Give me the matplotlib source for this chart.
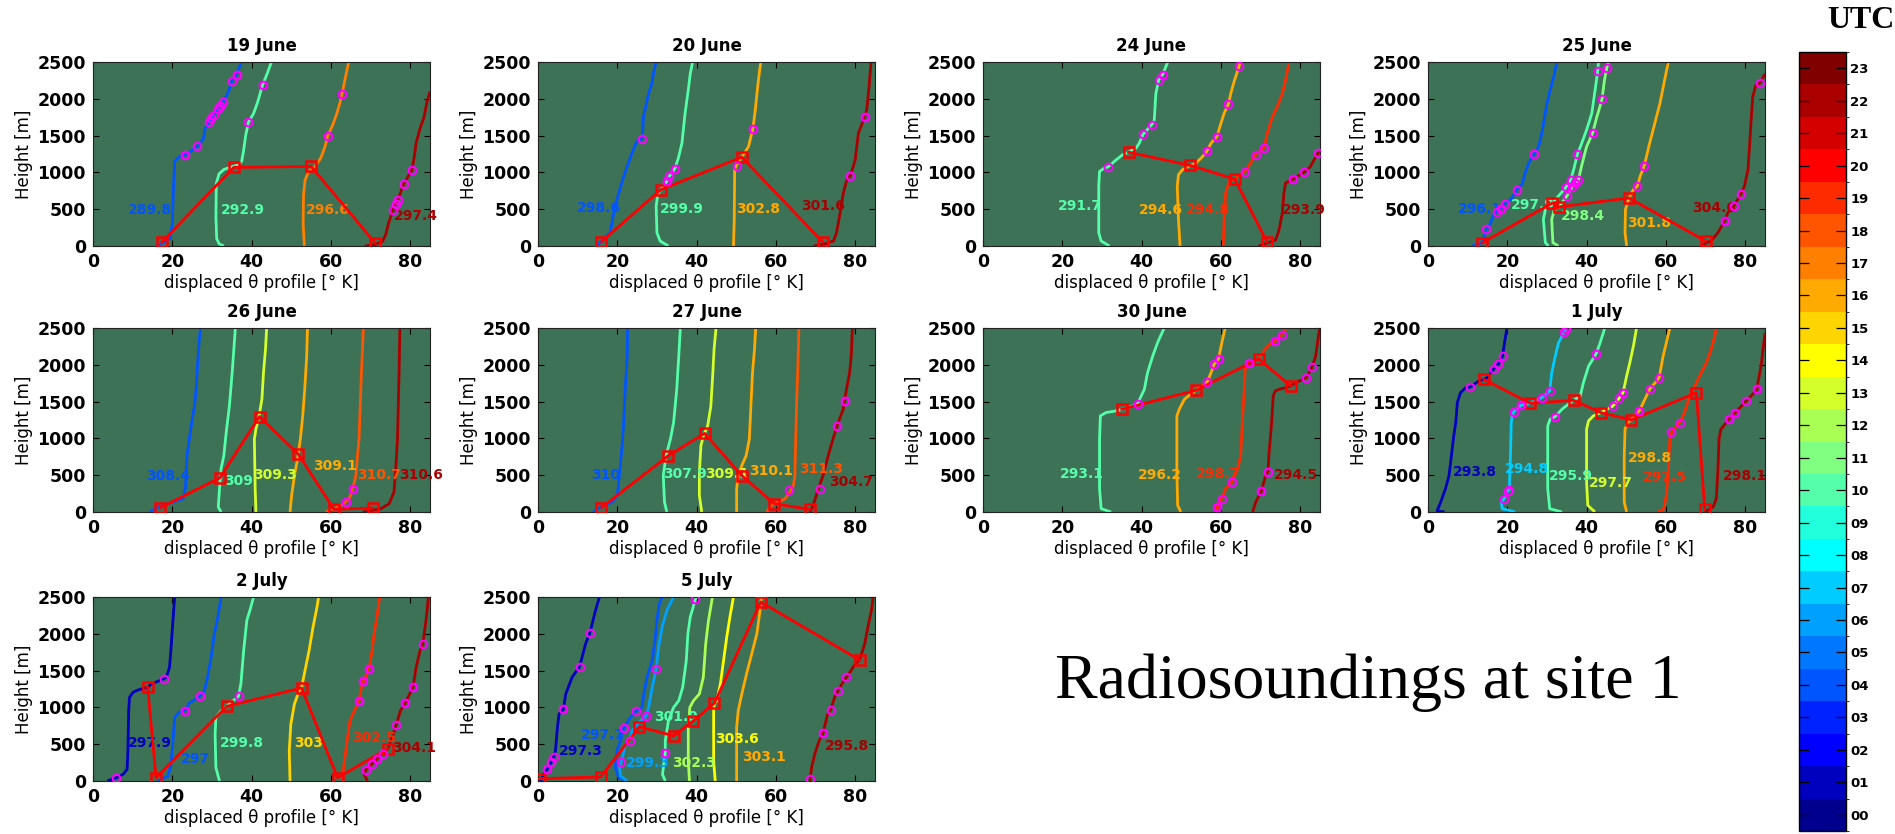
import numpy as np
import matplotlib
matplotlib.use('Agg')
import matplotlib.pyplot as plt
from matplotlib.colors import ListedColormap, BoundaryNorm
from matplotlib.cm import ScalarMappable

# ---------------- data ----------------
utc_hours = list(range(24))
utc_labels = ['%02d' % h for h in utc_hours]

panel_titles = ['19 June', '20 June', '24 June', '25 June', '26 June',
                '27 June', '30 June', '1 July', '2 July', '5 July']

# 19 June
jun19_hours = [4, 10, 17, 22]
jun19_labels = ['289.8', '292.9', '296.6', '297.4']
jun19_label_xz = [(8.8, 495), (32.3, 495), (53.7, 495), (75.9, 405)]
jun19_profiles = [
    [(15.9, 0), (17.5, 40), (19.5, 100), (20, 300), (20.3, 800), (20.6, 1150), (22, 1220), (23.2, 1239),
     (25.5, 1320), (26.5, 1365), (27.8, 1450), (28.3, 1600), (29.2, 1689), (30.6, 1779), (31.5, 1856),
     (32.8, 1955), (34.2, 2100), (35.0, 2239), (36.2, 2329), (36.8, 2420), (37.5, 2500)],
    [(33, 0), (31.8, 30), (31.2, 100), (31, 400), (31.1, 850), (31.8, 980), (33, 1040), (35, 1075),
     (36.5, 1100), (37.5, 1150), (38, 1300), (38.5, 1500), (39.2, 1680), (40.5, 1800), (41.5, 1950),
     (42.8, 2194), (44, 2350), (45, 2500)],
    [(53.3, 0), (53, 300), (53.1, 700), (53.5, 900), (54.5, 1020), (56, 1080), (57.5, 1200), (58.5, 1350),
     (59.2, 1495), (60.5, 1650), (61.5, 1800), (62.3, 1950), (62.8, 2063), (63.7, 2300), (64.5, 2500)],
    [(68.5, 0), (71, 20), (73, 60), (73.8, 150), (74.5, 300), (75.7, 495), (76.5, 577), (76.9, 631),
     (78.4, 847), (80.4, 1027), (81, 1200), (81.5, 1400), (82.5, 1600), (83.5, 1750), (84.2, 1950),
     (85, 2100)],
]
jun19_marks = [(23.2, 1239), (26.3, 1360), (29.2, 1689), (29.8, 1734), (30.6, 1779), (31.5, 1856),
               (32.1, 1901), (32.8, 1955), (35.0, 2239), (36.2, 2329), (39.2, 1680), (42.8, 2194),
               (59.2, 1495), (62.8, 2063), (75.7, 495), (76.5, 577), (76.9, 631), (78.4, 847), (80.4, 1027)]
jun19_bl = [(17.4, 54), (35.5, 1068), (55, 1081), (71.1, 45)]

# 20 June
jun20_hours = [4, 10, 16, 22]
jun20_labels = ['298.6', '299.9', '302.8', '301.6']
jun20_label_xz = [(9.8, 518), (30.8, 505), (50, 505), (66.4, 540)]
jun20_profiles = [
    [(14.7, 0), (16.1, 68), (18.2, 180), (19.1, 450), (19.9, 630), (21.6, 945), (23.7, 1261), (24.9, 1419),
     (26.3, 1459), (26.6, 1757), (27.9, 2072), (28.7, 2207), (29.1, 2342), (29.8, 2500)],
    [(32.9, 0), (30.8, 68), (30, 180), (29.8, 540), (30.2, 700), (31, 766), (32.5, 878), (33.1, 946),
     (34.5, 1050), (35.4, 1194), (36.3, 1396), (37.1, 1802), (38, 2162), (38.4, 2342), (39, 2500)],
    [(49.3, 0), (49.5, 360), (49.6, 1036), (50.1, 1100), (51.4, 1207), (53.1, 1351), (54.2, 1595),
     (54.8, 1847), (55.4, 2162), (55.9, 2387), (56.2, 2500)],
    [(69.5, 0), (72.5, 30), (74.5, 68), (75.3, 180), (76.2, 450), (77, 720), (77.9, 900), (78.8, 955),
     (80, 1171), (80.8, 1532), (82.3, 1740), (82.9, 1847), (83.5, 2162), (84, 2500)],
]
jun20_marks = [(26.3, 1459), (32.5, 878), (33.1, 946), (34.5, 1050), (50.1, 1081), (54.2, 1595),
               (78.8, 955), (82.5, 1757)]
jun20_bl = [(16, 59), (31, 766), (51.4, 1207), (71.8, 54)]

# 24 June
jun24_hours = [10, 16, 19, 22]
jun24_labels = ['291.7', '294.6', '294.8', '293.9']
jun24_label_xz = [(18.9, 540), (39.4, 495), (51.2, 490), (75.5, 495)]
jun24_profiles = [
    [(31.9, 0), (29.8, 68), (29.2, 180), (29.2, 811), (29.4, 1014), (30.6, 1059), (31.5, 1072),
     (33.6, 1171), (35.2, 1239), (36.7, 1275), (38.6, 1329), (39.4, 1396), (40.4, 1518), (42.5, 1644),
     (43.2, 1712), (43.6, 2072), (44.3, 2252), (45.3, 2329), (46.6, 2500)],
    [(49.7, 0), (49.3, 360), (49, 811), (49.3, 968), (50.3, 1036), (52.3, 1095), (53.7, 1126),
     (55.4, 1216), (56.4, 1284), (57.5, 1396), (59, 1486), (60, 1667), (60.8, 1802), (61.9, 1928),
     (62.5, 2072), (63.3, 2230), (64.6, 2441), (64.8, 2500)],
    [(60.6, 0), (60.8, 360), (61.2, 720), (62.1, 880), (63.5, 909), (64.6, 968), (66, 1000), (68, 1171),
     (68.8, 1239), (70.9, 1338), (71.7, 1532), (73, 1757), (74.2, 1892), (75.5, 2072), (76.3, 2252),
     (77.2, 2500)],
    [(69.5, 0), (71.6, 40), (73.8, 80), (74.7, 225), (75.5, 450), (75.9, 720), (76.3, 856), (78.2, 909),
     (79.3, 946), (81, 1000), (82.6, 1081), (83.5, 1171), (84.5, 1261), (85, 1306)],
]
jun24_marks = [(31.5, 1072), (40.4, 1518), (42.5, 1644), (44.3, 2252), (45.3, 2329), (56.4, 1284),
               (59, 1486), (61.9, 1928), (64.6, 2441), (66, 1000), (68.8, 1239), (70.9, 1338),
               (78.2, 909), (81, 1000), (84.5, 1261)]
jun24_bl = [(36.7, 1275), (52.3, 1095), (63.5, 909), (71.6, 59)]

# 25 June
jun25_hours = [4, 10, 11, 16, 22]
jun25_labels = ['296.1', '297.9', '298.4', '301.8', '304.6']
jun25_label_xz = [(7.6, 505), (20.8, 563), (33.5, 405), (50.3, 315), (66.7, 518)]
jun25_profiles = [
    [(11.1, 0), (13.7, 45), (14.7, 225), (15.7, 300), (16.6, 430), (17.3, 459), (18.3, 504), (19.5, 576),
     (21.2, 653), (22.4, 766), (23.7, 833), (24.5, 991), (25.4, 1126), (26.8, 1248), (27.9, 1351),
     (28.7, 1532), (30, 1937), (30.8, 2117), (31.7, 2297), (32.5, 2500)],
    [(30.4, 0), (29.6, 45), (29.1, 360), (29.7, 520), (31.4, 585), (34.8, 797), (36, 901), (36.8, 1050),
     (37.7, 1248), (38.8, 1400), (40, 1577), (41.3, 1800), (42.1, 2100), (42.8, 2374), (43, 2500)],
    [(32.9, 0), (31.5, 45), (31.2, 360), (31.8, 480), (33, 531), (35, 676), (36.3, 797), (37.1, 856),
     (37.9, 892), (38.8, 1100), (40, 1350), (41.5, 1532), (42.6, 1757), (43.4, 1900), (43.9, 2000),
     (44.5, 2250), (45.1, 2419), (45.5, 2500)],
    [(50.1, 0), (49.7, 180), (49.8, 495), (50.7, 653), (51.8, 766), (52.8, 811), (53.5, 946),
     (54.5, 1081), (55.9, 1396), (57.2, 1667), (58.5, 1937), (59.5, 2207), (60.6, 2500)],
    [(68.9, 0), (70, 40), (71.4, 68), (73.1, 180), (74.8, 338), (75.6, 450), (77.1, 540), (78.6, 676),
     (79, 712), (79.8, 811), (80.7, 1036), (81.1, 1351), (81.5, 1712), (81.9, 2027), (82.7, 2185),
     (83.8, 2216), (85, 2342)],
]
jun25_marks = [(14.7, 225), (17.3, 459), (18.3, 504), (19.5, 576), (22.4, 766), (26.8, 1248), (35, 676),
               (34.8, 797), (36, 901), (36.3, 797), (37.1, 856), (37.9, 892), (37.7, 1248), (41.5, 1532),
               (43.9, 2000), (42.8, 2374), (45.1, 2419), (52.8, 811), (54.5, 1081), (74.8, 338),
               (77.1, 540), (79, 712), (83.8, 2216)]
jun25_bl = [(13.7, 45), (31.4, 585), (33, 531), (50.7, 653), (70, 68)]

# 26 June
jun26_hours = [4, 10, 13, 16, 18, 22]
jun26_labels = ['308.4', '309', '309.3', '309.1', '310.7', '310.6']
jun26_label_xz = [(13.4, 486), (33, 419), (40.3, 509), (55.4, 631), (66.7, 509), (77.3, 509)]
jun26_profiles = [
    [(14.3, 0), (16.4, 68), (18.9, 113), (22.7, 180), (23.3, 315), (23.7, 766), (24.3, 991), (24.9, 1216),
     (25.6, 1441), (26, 1667), (26.4, 2027), (26.8, 2342), (27.1, 2500)],
    [(32.3, 0), (31.6, 68), (31.9, 315), (32.3, 586), (33, 766), (33.6, 1081), (34.4, 1441), (35.1, 1892),
     (35.7, 2342), (35.9, 2500)],
    [(41.1, 0), (40.9, 315), (40.7, 991), (41.1, 1126), (41.9, 1306), (42.6, 1532), (43, 1892),
     (43.5, 2207), (43.8, 2500)],
    [(49.7, 0), (50.1, 225), (50.8, 495), (51.6, 721), (52.3, 991), (52.9, 1306), (53.4, 1667),
     (53.9, 2117), (54.1, 2500)],
    [(58.7, 0), (60.8, 45), (63.3, 113), (64.6, 180), (65.4, 293), (66.3, 495), (66.7, 766), (67.1, 991),
     (67.4, 1441), (67.7, 1892), (68.2, 2500)],
    [(68, 0), (72.6, 45), (74.7, 113), (75.9, 270), (76.3, 540), (76.8, 991), (77, 1441), (77.2, 1892),
     (77.4, 2500)],
]
jun26_marks = [(63.8, 135), (65.7, 306)]
jun26_bl = [(17, 59), (32, 464), (42, 1297), (51.8, 784), (60.8, 36), (70.5, 54)]

# 27 June
jun27_hours = [4, 10, 13, 16, 18, 22]
jun27_labels = ['310', '307.9', '309.1', '310.1', '311.3', '304.7']
jun27_label_xz = [(13.5, 504), (31.6, 518), (42.2, 518), (53.3, 563), (65.8, 586), (73.4, 414)]
jun27_profiles = [
    [(13.9, 0), (15.8, 68), (18.7, 135), (20, 225), (20.6, 540), (21.2, 901), (21.6, 1216), (22, 1667),
     (22.5, 2117), (22.6, 2500)],
    [(32.5, 0), (31.9, 135), (31.6, 495), (32.3, 766), (33.4, 991), (34.2, 1216), (35, 1667),
     (35.5, 2117), (35.9, 2500)],
    [(41.3, 0), (40.7, 225), (40.7, 540), (41.1, 901), (41.7, 1036), (42.8, 1171), (43.6, 1441),
     (44.1, 1892), (44.4, 2207), (44.9, 2500)],
    [(50.1, 0), (50.1, 315), (50.5, 495), (51.4, 631), (52.5, 766), (53.3, 991), (53.7, 1441),
     (54.1, 1892), (54.6, 2207), (54.9, 2500)],
    [(57.7, 0), (58.9, 90), (60.6, 135), (62.3, 180), (63.5, 270), (64.4, 360), (64.8, 495), (65, 991),
     (65.2, 1441), (65.5, 1892), (65.8, 2500)],
    [(68.6, 0), (69.4, 90), (70.7, 315), (71.9, 495), (73.2, 766), (74.4, 991), (75.7, 1216), (77, 1396),
     (77.8, 1667), (78.6, 1892), (79, 2117), (79.3, 2500)],
]
jun27_marks = [(63.4, 293), (71.2, 315), (75.4, 1171), (77.4, 1509)]
jun27_bl = [(16, 59), (32.9, 766), (42, 1068), (51.4, 495), (59.6, 113), (68.6, 36)]

# 30 June
jun30_hours = [10, 16, 19, 22]
jun30_labels = ['293.1', '296.2', '298.7', '294.5']
jun30_label_xz = [(19.3, 518), (39, 509), (53.7, 518), (73.4, 509)]
jun30_profiles = [
    [(32.3, 0), (29.8, 45), (29.4, 315), (29.4, 991), (29.6, 1306), (31, 1351), (33.6, 1374), (35, 1396),
     (37.8, 1440), (39, 1473), (40.7, 1667), (41.5, 1892), (42.8, 2117), (44, 2297), (45.7, 2500)],
    [(49.9, 0), (49.1, 90), (48.9, 540), (48.9, 1306), (49.5, 1396), (50.8, 1532), (52.4, 1599),
     (53.7, 1653), (55.8, 1734), (56.6, 1766), (58.3, 2005), (59.4, 2081), (60.4, 2342), (61.1, 2500)],
    [(59.1, 0), (59.1, 68), (60.2, 180), (61.2, 315), (62.8, 405), (64.2, 586), (65, 766), (65.4, 1216),
     (65.9, 1667), (66.1, 1937), (67.1, 2027), (69.5, 2081), (70.5, 2162), (72.1, 2275), (73.7, 2320),
     (75.5, 2410), (76.5, 2500)],
    [(68, 0), (68.8, 135), (70.2, 284), (71.3, 495), (71.9, 550), (72.1, 766), (72.8, 1216), (73.2, 1577),
     (73.7, 1644), (74.7, 1667), (76.3, 1689), (77.6, 1712), (78.9, 1757), (81.5, 1824), (83, 1968),
     (83.9, 2117), (84.7, 2432), (85, 2500)],
]
jun30_marks = [(39, 1473), (56.6, 1766), (58.3, 2005), (59.4, 2081), (59.1, 68), (60.2, 180), (62.8, 405),
               (67.1, 2027), (73.7, 2320), (75.5, 2410), (70.2, 284), (71.9, 550), (81.5, 1824), (83, 1968)]
jun30_bl = [(35, 1396), (53.7, 1653), (69.5, 2081), (77.6, 1712)]

# 1 July
jul01_hours = [1, 7, 10, 13, 16, 19, 22]
jul01_labels = ['293.8', '294.8', '295.9', '297.7', '298.8', '297.5', '298.1']
jul01_label_xz = [(6.3, 550), (19.3, 586), (30.6, 495), (40.7, 392), (50.3, 730), (54.3, 482), (74.5, 495)]
jul01_profiles = [
    [(4.2, 0), (2.3, 15), (3.2, 135), (4.4, 315), (5.3, 495), (5.9, 766), (6.5, 1036), (7, 1216),
     (7.4, 1486), (8.2, 1622), (9.5, 1689), (10.6, 1698), (12.8, 1779), (14.1, 1802), (14.9, 1824),
     (16.6, 1946), (17.7, 2005), (18.8, 2117), (19.3, 2297), (19.9, 2500)],
    [(22, 0), (18.7, 45), (18.5, 135), (19.1, 171), (20.1, 284), (20.5, 302), (20.8, 766), (21, 1216),
     (21.2, 1300), (21.6, 1360), (23.5, 1450), (25.8, 1477), (28.7, 1554), (30.7, 1644), (31.2, 1892),
     (32.1, 2117), (32.9, 2297), (34.3, 2441), (34.8, 2500)],
    [(33.8, 0), (30.7, 45), (30.2, 315), (30.2, 1171), (30.8, 1261), (32.1, 1297), (33.8, 1396),
     (35.4, 1464), (36.7, 1518), (38.4, 1577), (39.2, 1757), (40.5, 1982), (42.4, 2149), (43.4, 2297),
     (44.6, 2500)],
    [(42.1, 0), (40.3, 90), (40, 405), (40, 1126), (40.5, 1239), (41.7, 1306), (43.6, 1351), (46.7, 1441),
     (48.2, 1545), (49.2, 1622), (50.1, 1847), (50.9, 2027), (51.8, 2252), (52.6, 2500)],
    [(50.1, 0), (49.5, 135), (49.5, 766), (49.7, 1126), (50.3, 1216), (51.3, 1252), (53.3, 1374),
     (54.7, 1532), (55.9, 1667), (58.3, 1824), (59.3, 2117), (60.1, 2297), (61, 2500)],
    [(58, 0), (59.5, 45), (60.1, 225), (60.6, 540), (61, 1000), (61.4, 1081), (63.5, 1216), (64.7, 1351),
     (66, 1577), (67.3, 1712), (68.9, 1892), (70.2, 2027), (71.4, 2207), (72.3, 2387), (72.7, 2500)],
    [(69.8, 0), (71.9, 68), (72.7, 180), (73.1, 540), (73.4, 991), (73.9, 1126), (76, 1270), (77.5, 1351),
     (80.2, 1505), (82.3, 1622), (83, 1667), (83.2, 1757), (84, 1982), (84.7, 2297), (85, 2432)],
]
jul01_marks = [(10.6, 1698), (16.6, 1946), (17.7, 2005), (18.8, 2117), (19.1, 171), (20.1, 284),
               (20.5, 302), (21.6, 1360), (23.5, 1450), (28.7, 1554), (30.7, 1644), (34.3, 2441),
               (34.8, 2486), (32.1, 1297), (42.4, 2149), (46.7, 1441), (48.2, 1545), (49.2, 1622),
               (53.3, 1374), (55.9, 1667), (58.3, 1824), (61.4, 1081), (63.5, 1216), (76, 1270),
               (77.5, 1351), (80.2, 1505), (83, 1667)]
jul01_bl = [(14.1, 1802), (25.8, 1477), (36.7, 1518), (43.6, 1351), (51.3, 1252), (67.7, 1622), (69.8, 36)]

# 2 July
jul02_hours = [1, 4, 10, 15, 19, 22]
jul02_labels = ['297.9', '297', '299.8', '303', '302.5', '304.1']
jul02_label_xz = [(8.8, 514), (22.2, 295), (32, 514), (50.8, 514), (65.4, 591), (75.5, 455)]
jul02_profiles = [
    [(3.6, 0), (5.9, 45), (7.6, 91), (8.6, 159), (8.8, 409), (9, 955), (9.2, 1136), (10.1, 1205),
     (11.3, 1236), (13.8, 1273), (14.7, 1318), (16.8, 1364), (17.9, 1391), (18.5, 1409), (19.3, 1545),
     (19.7, 1818), (20.1, 2136), (20.6, 2500)],
    [(16.4, 0), (18.9, 68), (19.7, 227), (20.1, 500), (20.6, 864), (21.6, 930), (23.2, 960), (24.3, 1060),
     (27, 1150), (28.1, 1227), (28.9, 1409), (29.8, 1682), (30.6, 2000), (31.5, 2227), (32.3, 2500)],
    [(31.9, 0), (31, 182), (30.8, 636), (31, 864), (32.3, 955), (33.7, 1014), (34.8, 1068), (36.7, 1150),
     (37.3, 1318), (38, 1773), (38.8, 2182), (39.7, 2341), (40.5, 2500)],
    [(49.7, 0), (49.5, 409), (49.9, 773), (50.8, 1045), (52, 1227), (52.6, 1264), (53.3, 1455),
     (54.5, 1773), (55.5, 2091), (56.5, 2364), (56.9, 2500)],
    [(62.9, 0), (63.3, 227), (64.2, 591), (64.8, 818), (65.9, 955), (67.1, 1082), (67.6, 1250),
     (68.2, 1355), (69.6, 1518), (70.4, 1773), (70.9, 2000), (71.6, 2227), (72.3, 2500)],
    [(69.2, 0), (68.4, 91), (68.8, 150), (70.3, 227), (71.7, 305), (73.2, 373), (74.4, 441), (75.5, 600),
     (76.5, 764), (77.5, 950), (78.7, 1055), (80.7, 1273), (81.5, 1545), (82.5, 1773), (83.2, 1864),
     (84.1, 2227), (84.6, 2500)],
]
jul02_marks = [(5.9, 45), (17.9, 1391), (23.2, 950), (27, 1150), (36.7, 1150), (67.1, 1082), (68.2, 1355),
               (69.6, 1518), (68.8, 150), (70.3, 227), (71.7, 305), (73.2, 373), (76.5, 764), (78.7, 1055),
               (80.7, 1273), (83.2, 1864)]
jul02_bl = [(13.8, 1273), (15.9, 45), (33.7, 1014), (52.6, 1264), (61.7, 45), (74.4, 441)]

# 5 July
jul05_hours = [1, 4, 6, 10, 12, 14, 16, 22]
jul05_labels = ['297.3', '297.7', '299.3', '301.9', '302.3', '303.6', '303.1', '295.8']
jul05_label_xz = [(5.3, 409), (10.9, 627), (22.2, 250), (29.3, 864), (33.9, 250), (44.7, 568),
                  (51.4, 327), (72.3, 477)]
jul05_profiles = [
    [(0.7, 0), (1.5, 91), (2.3, 159), (3.4, 259), (4, 332), (4.4, 409), (4.9, 727), (5.3, 909), (6.4, 977),
     (7, 1182), (8.6, 1409), (10.5, 1555), (12, 1864), (13.1, 2014), (14.5, 2318), (15.5, 2500)],
    [(22.5, 0), (20.4, 45), (19.5, 182), (19.9, 409), (20.8, 545), (21.6, 714), (23.3, 864), (24.6, 945),
     (26.2, 1000), (26.7, 1182), (27.5, 1409), (28.8, 1636), (29.6, 1955), (30, 2182), (30.6, 2409),
     (31.3, 2500)],
    [(22.5, 0), (20.8, 68), (20.6, 182), (21, 259), (22, 480), (23.1, 541), (23.7, 682), (25.8, 818),
     (27.2, 877), (27.9, 1000), (28.8, 1273), (29.8, 1518), (30.4, 1818), (31.3, 2091), (32.5, 2318),
     (34.2, 2500)],
    [(32.1, 0), (31.4, 91), (32.1, 377), (32.1, 545), (32.9, 818), (34.2, 1000), (35.5, 1091),
     (36.5, 1273), (37.4, 1636), (37.8, 2000), (38.4, 2227), (39.7, 2468), (40, 2500)],
    [(38.2, 0), (37.9, 273), (37.9, 727), (38.3, 1000), (39.2, 1091), (40.7, 1182), (41.7, 1409),
     (42.3, 1864), (43, 2182), (44, 2500)],
    [(44.7, 0), (44.3, 273), (44.3, 955), (44.5, 1059), (45.1, 1091), (46, 1318), (46.8, 1636),
     (47.6, 1955), (48.4, 2227), (49.3, 2500)],
    [(50.1, 0), (50.1, 727), (50.5, 955), (51.4, 1182), (52.6, 1455), (53.9, 1727), (55.2, 2000),
     (56, 2318), (56.2, 2432), (56.4, 2500)],
    [(68.6, 0), (69, 182), (69.8, 364), (70.9, 545), (71.9, 650), (73, 900), (73.8, 968), (74.9, 1150),
     (75.7, 1227), (77, 1350), (77.8, 1409), (79.9, 1580), (81.1, 1645), (82.4, 1864), (83.2, 2091),
     (84.1, 2318), (84.5, 2500)],
]
jul05_marks = [(2.3, 159), (3.4, 259), (4, 332), (6.4, 977), (10.5, 1555), (13.1, 2014), (24.6, 945),
               (21.6, 714), (21, 259), (27.2, 877), (29.8, 1518), (23.1, 541), (32.1, 377), (39.7, 2468),
               (68.6, 23), (71.9, 650), (73.8, 968), (75.7, 1227), (77.8, 1409)]
jul05_bl = [(0.4, 32), (15.8, 55), (25.6, 736), (34.2, 614), (39.2, 818), (44.5, 1059), (56.2, 2432),
            (81.1, 1645)]

# ---------------- style ----------------
utc_colors = ['#00008F', '#0000BF', '#0000FF', '#0022FF', '#0055FF', '#0077FF', '#00A0FF', '#00CCFF',
              '#00FFFF', '#22FFDD', '#55FFAA', '#80FF80', '#AAFF55', '#D5FF2B', '#FFFF00', '#FFD500',
              '#FFAA00', '#FF8000', '#FF5500', '#FF2B00', '#FF0000', '#D40000', '#AA0000', '#800000']
cmap = ListedColormap(utc_colors)
norm = BoundaryNorm(np.arange(0, 25) - 0.5, cmap.N)
bg = '#3D7257'

W, H = 1895, 834
fig = plt.figure(figsize=(W / 100, H / 100), dpi=100)
plt.rcParams['font.family'] = ['DejaVu Sans']

panels = [
    (jun19_hours, jun19_labels, jun19_label_xz, jun19_profiles, jun19_marks, jun19_bl),
    (jun20_hours, jun20_labels, jun20_label_xz, jun20_profiles, jun20_marks, jun20_bl),
    (jun24_hours, jun24_labels, jun24_label_xz, jun24_profiles, jun24_marks, jun24_bl),
    (jun25_hours, jun25_labels, jun25_label_xz, jun25_profiles, jun25_marks, jun25_bl),
    (jun26_hours, jun26_labels, jun26_label_xz, jun26_profiles, jun26_marks, jun26_bl),
    (jun27_hours, jun27_labels, jun27_label_xz, jun27_profiles, jun27_marks, jun27_bl),
    (jun30_hours, jun30_labels, jun30_label_xz, jun30_profiles, jun30_marks, jun30_bl),
    (jul01_hours, jul01_labels, jul01_label_xz, jul01_profiles, jul01_marks, jul01_bl),
    (jul02_hours, jul02_labels, jul02_label_xz, jul02_profiles, jul02_marks, jul02_bl),
    (jul05_hours, jul05_labels, jul05_label_xz, jul05_profiles, jul05_marks, jul05_bl),
]

col_left = [93, 538, 983, 1428]
row_top = [62, 328, 597]
ax_w, ax_h = 337, 184

for i, (title, pdata) in enumerate(zip(panel_titles, panels)):
    hours, labels, label_xz, profiles, marks, bl = pdata
    r, c = divmod(i, 4)
    left = col_left[c]
    top = row_top[r]
    ax = fig.add_axes([left / W, 1 - (top + ax_h) / H, ax_w / W, ax_h / H])
    ax.set_facecolor(bg)
    for h, prof in zip(hours, profiles):
        xs, zs = zip(*prof)
        ax.plot(xs, zs, color=cmap(norm(h)), lw=2.0, solid_capstyle='butt', zorder=2)
    for h, lab, (lx, lz) in zip(hours, labels, label_xz):
        ax.text(lx, lz, lab, color=cmap(norm(h)), fontsize=10, fontweight='bold',
                ha='left', va='center', zorder=3)
    bx, bz = zip(*bl)
    ax.plot(bx, bz, color='red', lw=2.0, marker='s', ms=6.5, mfc='none', mec='red', mew=1.8, zorder=4)
    mx, mz = zip(*marks)
    ax.plot(mx, mz, ls='none', marker='o', ms=5.5, mfc='none', mec='#FF00FF', mew=1.5, zorder=5)
    ax.set_xlim(0, 85)
    ax.set_ylim(0, 2500)
    ax.set_xticks([0, 20, 40, 60, 80])
    ax.set_yticks([0, 500, 1000, 1500, 2000, 2500])
    ax.tick_params(direction='in', length=4, width=0.8, top=True, right=True, labelsize=12.5, pad=5)
    for t in ax.get_xticklabels() + ax.get_yticklabels():
        t.set_fontweight('bold')
    for s in ax.spines.values():
        s.set_color('#222222')
        s.set_linewidth(0.8)
    ax.set_title(title, fontsize=12, fontweight='semibold', pad=8)
    ax.set_xlabel('displaced \u03b8 profile [\u00b0 K]', fontsize=12, labelpad=2)
    ax.set_ylabel('Height [m]', fontsize=12, labelpad=3)

# colorbar
cax = fig.add_axes([1799 / W, 1 - 831 / H, 47 / W, 779 / H])
sm = ScalarMappable(norm=norm, cmap=cmap)
cb = fig.colorbar(sm, cax=cax, ticks=utc_hours)
cb.ax.set_yticklabels(utc_labels)
cb.ax.tick_params(direction='in', length=7, width=0.9, left=True, right=True, labelsize=9.5, pad=3)
for t in cb.ax.get_yticklabels():
    t.set_fontweight('bold')
cb.outline.set_linewidth(1.0)

fig.text(1861 / W, 1 - 6 / H, 'UTC', family='Liberation Serif', fontweight='bold', fontsize=23,
         ha='center', va='top')
fig.text(1368 / W, 1 - 698 / H, 'Radiosoundings at site 1', family='Liberation Serif', fontsize=46,
         ha='center', va='baseline')

fig.savefig('out.png', dpi=100)
